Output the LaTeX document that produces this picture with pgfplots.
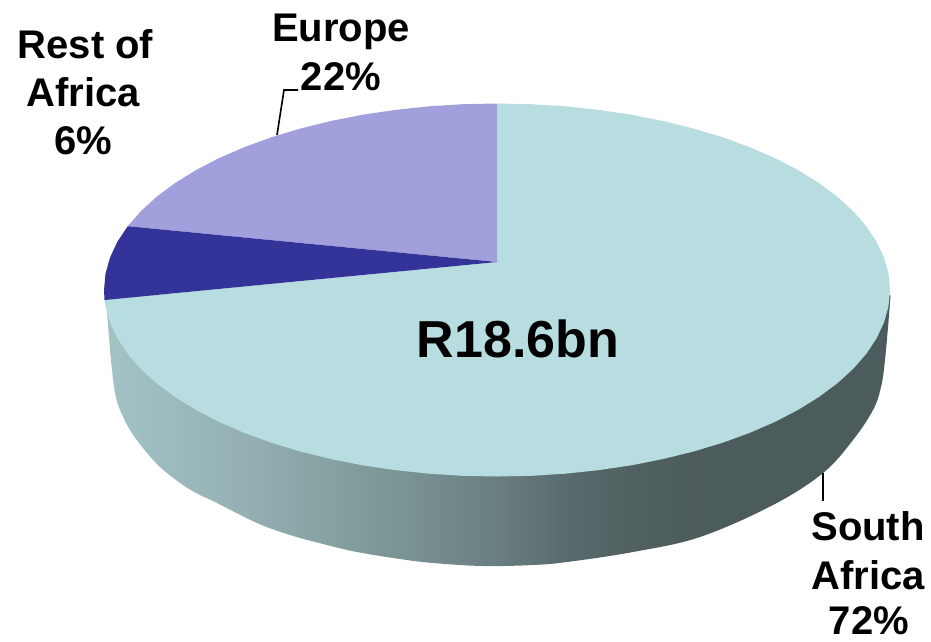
\documentclass[border=0pt]{standalone}
\usepackage{pgfplots}
\pgfplotsset{compat=1.18}
\usepackage{fontspec}
\setmainfont{Liberation Sans}
\definecolor{topc}{HTML}{B8DDE1}
\definecolor{eur}{HTML}{A1A0DC}
\definecolor{rest}{HTML}{333399}
\pgfdeclarehorizontalshading{sideshade}{100bp}{
 rgb(0bp)=(0.64,0.765,0.776);
 rgb(25bp)=(0.64,0.765,0.776);
 rgb(34bp)=(0.58,0.69,0.70);
 rgb(43.8bp)=(0.48,0.58,0.58);
 rgb(50.2bp)=(0.41,0.49,0.50);
 rgb(54.6bp)=(0.345,0.415,0.425);
 rgb(59.7bp)=(0.31,0.37,0.37);
 rgb(62.9bp)=(0.298,0.357,0.355);
 rgb(100bp)=(0.298,0.357,0.355)}
\begin{document}
\begin{tikzpicture}
\begin{axis}[scale only axis,width=931pt,height=641pt,xmin=0,xmax=931,ymin=0,ymax=641,y dir=reverse,hide axis,clip=false]
\addplot[draw=none,forget plot] coordinates {(0,0)(931,641)};
% side wall
\addplot[draw=none,shading=sideshade,shading angle=0,smooth,tension=0.6] coordinates {
(105,295)(107,313)(110,350)(112,370)(115,393)(120,410)(130,430)(143,448)(160,467)(183,485)(200,495)(215,502)(257,523)(290,535)(323,544)(357,552)(400,559)(433,563)(483,566)(533,565)(567,562)(633,552)(700,537)(773,505)(823,473)(853,440)(873,410)(881,387)(885,360)(890,303)(890,295)};
% South Africa
\addplot[draw=none,fill=topc] coordinates {
(497,262)(497,103.5)(531.3,104.2)(565.2,106.3)(598.7,109.9)(631.4,114.7)(663.1,121)(693.5,128.5)(722.4,137.2)(749.6,147.1)(774.9,158.1)(798,170.1)(818.9,183)(837.3,196.7)(853.2,211.2)(866.3,226.2)(876.6,241.7)(884,257.6)(888.5,273.7)(890,290)
(888.5,306.3)(884,322.4)(876.6,338.3)(866.3,353.8)(853.2,368.8)(837.3,383.3)(818.9,397)(798,409.9)(774.9,421.9)(749.6,432.9)(722.4,442.8)(693.5,451.5)(663.1,459)(631.4,465.3)(598.7,470.1)(565.2,473.7)(531.3,475.8)(497,476.5)
(462.7,475.8)(428.8,473.7)(395.3,470.1)(362.6,465.3)(330.9,459)(300.5,451.5)(271.6,442.8)(244.4,432.9)(219.1,421.9)(196,409.9)(175.1,397)(156.7,383.3)(140.8,368.8)(127.7,353.8)(117.4,338.3)(110,322.4)(105.5,306.3)(104.5,300)(497,262)};
% Europe
\addplot[draw=none,fill=eur] coordinates {
(497,262)(127.7,226.2)(140.8,211.2)(156.7,196.7)(175.1,183)(196,170.1)(219.1,158.1)(244.4,147.1)(271.6,137.2)(300.5,128.5)(330.9,121)(362.6,114.7)(395.3,109.9)(428.8,106.3)(462.7,104.2)(497,103.5)(497,262)};
% Rest of Africa
\addplot[draw=none,fill=rest] coordinates {
(497,262)(104.5,300)(104,290)(105.5,273.7)(110,257.6)(117.4,241.7)(127.7,226.2)(497,262)};
% leaders
\addplot[black,line width=1.6pt] coordinates {(277,135)(284,90)(298,90)};
\addplot[black,line width=1.6pt] coordinates {(823,473)(823,501)};
\def\lab#1#2#3{\node[anchor=base,inner sep=0pt,font=\fontsize{40}{40}\selectfont\bfseries] at (axis cs:#1,#2) {#3};}
\lab{85.5}{58}{Rest of}
\lab{83}{106}{Africa}
\lab{83}{154}{6\%}
\lab{341}{41}{Europe}
\lab{341}{90}{22\%}
\lab{868}{540}{South}
\lab{868}{589}{Africa}
\lab{869}{634}{72\%}
\node[anchor=base,inner sep=0pt,font=\fontsize{52}{52}\selectfont\bfseries] at (axis cs:518,357) {R18.6bn};
\end{axis}
\end{tikzpicture}
\end{document}
